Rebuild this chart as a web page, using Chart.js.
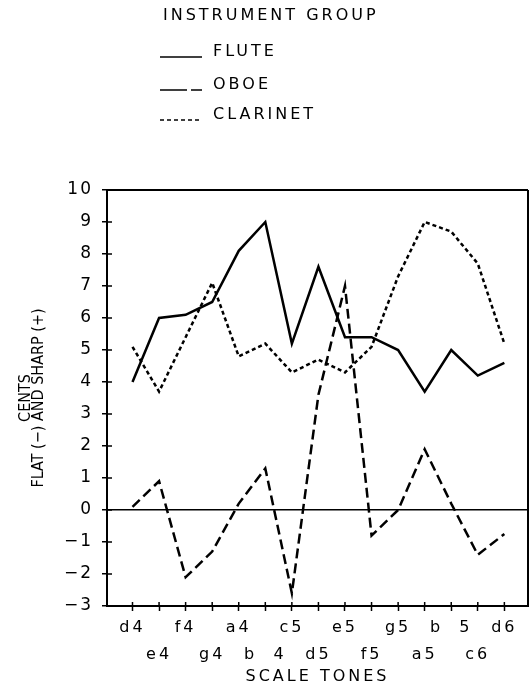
<!DOCTYPE html>
<html>
<head>
<meta charset="utf-8">
<script src="https://cdn.jsdelivr.net/npm/chart.js@4"></script>
<style>
  html, body { margin: 0; padding: 0; background: #fff; }
  #wrap { position: relative; width: 529px; height: 684px; }
  #c { position: absolute; left: 0; top: 0; }
  .lg { position: absolute; font-family: 'DejaVu Sans', sans-serif; font-size: 16px; letter-spacing: 3px; color: #000; line-height: 18px; white-space: nowrap; }
  .sw { position: absolute; }
</style>
</head>
<body>
<div id="wrap">
  <canvas id="c" width="529" height="684"></canvas>
</div>
<script>
// ---- data ----
const categories = ['d4','e4','f4','g4','a4','b  4','c5','d5','e5','f5','g5','a5','b  5','c6','d6'];
const flute    = [4.0, 6.0, 6.1, 6.5, 8.1, 9.0, 5.2, 7.6, 5.4, 5.4, 5.0, 3.7, 5.0, 4.2, 4.6];
const oboe     = [0.1, 0.9, -2.1, -1.3, 0.2, 1.3, -2.6, 3.6, 7.0, -0.8, 0.0, 1.9, 0.2, -1.4, -0.75];
const clarinet = [5.1, 3.7, 5.4, 7.1, 4.8, 5.2, 4.3, 4.7, 4.3, 5.1, 7.3, 9.0, 8.7, 7.7, 5.2];
const seriesNames = ['FLUTE', 'OBOE', 'CLARINET'];
const legendTitle = 'INSTRUMENT GROUP';
const xTitle = 'SCALE TONES';
const yTitle = ['CENTS', 'FLAT (\u2212) AND SHARP (+)'];
const yMin = -3, yMax = 10;

// ---- styles ----
const dashes = [[], [10, 5], [4, 3]];
const legendDash = ['', '27 4 12 99', '4 3'];

const seriesData = [flute, oboe, clarinet];
const datasets = seriesData.map((arr, k) => ({
  label: seriesNames[k],
  data: arr.map((v, i) => ({ x: i, y: v })),
  borderColor: '#000',
  borderWidth: 2.5,
  borderDash: dashes[k],
  pointRadius: 0,
  tension: 0,
  fill: false,
}));

// ---- HTML legend ----
const wrap = document.getElementById('wrap');
const t = document.createElement('div');
t.className = 'lg'; t.textContent = legendTitle;
t.style.left = '163px'; t.style.top = '6px';
wrap.appendChild(t);
const rowCenters = [51, 84, 114];
seriesNames.forEach((name, k) => {
  const d = document.createElement('div');
  d.className = 'lg'; d.textContent = name;
  d.style.left = '213px'; d.style.top = (rowCenters[k] - 9) + 'px';
  wrap.appendChild(d);
  const ns = 'http://www.w3.org/2000/svg';
  const s = document.createElementNS(ns, 'svg');
  s.setAttribute('class', 'sw');
  s.setAttribute('width', '46'); s.setAttribute('height', '4');
  s.style.left = '158px'; s.style.top = (rowCenters[k] + 4) + 'px';
  const l = document.createElementNS(ns, 'line');
  l.setAttribute('x1', '2'); l.setAttribute('x2', '44');
  l.setAttribute('y1', '2'); l.setAttribute('y2', '2');
  l.setAttribute('stroke', '#000'); l.setAttribute('stroke-width', '1.6');
  if (legendDash[k]) l.setAttribute('stroke-dasharray', legendDash[k]);
  s.appendChild(l);
  wrap.appendChild(s);
});

// ---- plugins ----
function wrapSpacing(scale, method, spacing) {
  const orig = scale[method];
  scale[method] = function () {
    this.ctx.save();
    this.ctx.letterSpacing = spacing;
    orig.apply(this, arguments);
    this.ctx.restore();
  };
}
const spacingPlugin = {
  id: 'spacing',
  beforeDraw(chart) { chart.ctx.letterSpacing = '3px'; },
  afterUpdate(chart) {
    const s = chart.scales.y;
    if (s && !s.__wrapped) {
      wrapSpacing(s, 'drawTitle', '0px');
      wrapSpacing(s, 'drawLabels', '2px');
      s.__wrapped = true;
    }
  }
};
const framePlugin = {
  id: 'frame',
  afterDraw(chart) {
    const { ctx, chartArea: a, scales: { x, y } } = chart;
    ctx.save();
    ctx.strokeStyle = '#000';
    ctx.lineWidth = 2;
    ctx.beginPath();
    ctx.moveTo(a.left, a.top); ctx.lineTo(a.right, a.top);
    ctx.moveTo(a.right, a.top); ctx.lineTo(a.right, a.bottom);
    ctx.stroke();
    ctx.lineWidth = 1.5;
    ctx.beginPath();
    y.ticks.forEach(tk => {
      const py = y.getPixelForValue(tk.value);
      ctx.moveTo(a.left, py); ctx.lineTo(a.left + 5, py);
    });
    x.ticks.forEach(tk => {
      const px = x.getPixelForValue(tk.value);
      ctx.moveTo(px, a.bottom); ctx.lineTo(px, a.bottom - 4);
    });
    ctx.stroke();
    ctx.restore();
  }
};

new Chart(document.getElementById('c'), {
  type: 'line',
  data: { datasets },
  options: {
    responsive: false,
    animation: false,
    devicePixelRatio: 1,
    layout: { padding: { top: 190, left: 0, right: 1, bottom: 0 } },
    plugins: { legend: { display: false }, tooltip: { enabled: false } },
    scales: {
      x: {
        type: 'linear',
        min: -0.96,
        max: 14.89,
        afterBuildTicks: (scale) => { scale.ticks = categories.map((_, i) => ({ value: i })); },
        afterFit: (scale) => { scale.height = 78; },
        grid: { drawOnChartArea: false, tickLength: 5, tickColor: '#000', tickWidth: 1.5 },
        border: { color: '#000', width: 2 },
        ticks: {
          autoSkip: false,
          maxRotation: 0,
          padding: 3.5,
          color: '#000',
          font: { family: "'DejaVu Sans', sans-serif", size: 16, lineHeight: '27px' },
          callback: (v) => {
            const name = categories[v];
            if (name === undefined) return '';
            return (v % 2 === 0) ? [name, ''] : ['', name];
          }
        },
        title: {
          display: true,
          text: xTitle,
          color: '#000',
          padding: { top: 0, bottom: 0 },
          font: { family: "'DejaVu Sans', sans-serif", size: 16, lineHeight: '14px' }
        }
      },
      y: {
        min: yMin,
        max: yMax,
        afterFit: (scale) => { scale.width = 107; },
        grid: {
          color: (c) => (c.tick && c.tick.value === 0) ? '#000' : 'rgba(0,0,0,0)',
          lineWidth: 1.5,
          tickColor: '#000',
          tickWidth: 1.5,
          tickLength: 5
        },
        border: { color: '#000', width: 2 },
        ticks: {
          stepSize: 1,
          padding: 9,
          color: '#000',
          font: { family: "'DejaVu Sans', sans-serif", size: 17 },
          callback: (v) => (v < 0 ? '\u2212' + Math.abs(v) : String(v))
        },
        title: {
          display: true,
          text: yTitle,
          color: '#000',
          padding: { top: 19.5, bottom: 0 },
          font: { family: "'Liberation Sans Narrow', 'DejaVu Sans Condensed', 'Liberation Sans', sans-serif", size: 16, lineHeight: '13px' }
        }
      }
    }
  },
  plugins: [spacingPlugin, framePlugin]
});
</script>
</body>
</html>
